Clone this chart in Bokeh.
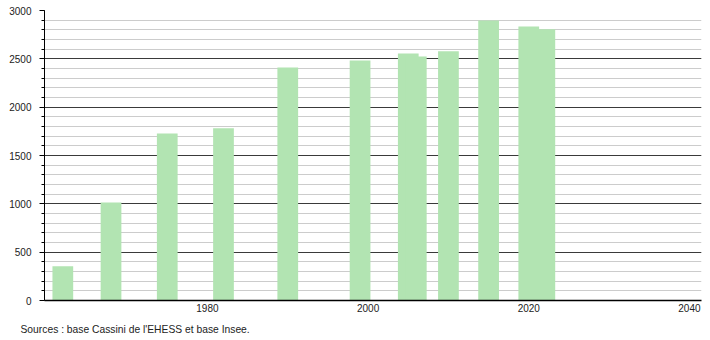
from bokeh.plotting import figure
from bokeh.models import FixedTicker, Range1d, Title
from bokeh.embed import file_html
from bokeh.resources import INLINE

# Data
years = [1962, 1968, 1975, 1982, 1990, 1999, 2005, 2006, 2010, 2015, 2020, 2022]
population = [355, 1014, 1728, 1783, 2410, 2483, 2555, 2524, 2579, 2897, 2834, 2807]
x_tick_labels = [1980, 2000, 2020, 2040]
source_text = "Sources : base Cassini de l'EHESS et base Insee."

FONT = "Liberation Sans"

p = figure(width=710, height=340, output_backend="svg", toolbar_location=None,
           x_range=Range1d(1959.72, 2041.5), y_range=Range1d(0, 3000),
           min_border_left=44, min_border_right=9, min_border_top=10,
           min_border_bottom=4)
p.frame_width = 657
p.frame_height = 290
p.outline_line_color = None
p.background_fill_color = "white"
p.border_fill_color = "white"

p.vbar(x=years, top=population, width=2.58, bottom=0,
       fill_color="#b2e4b2", line_color=None)

# y axis
ya = p.yaxis[0]
ya.ticker = FixedTicker(ticks=list(range(0, 3001, 500)),
                        minor_ticks=list(range(0, 3001, 100)))
ya.axis_line_color = "black"
ya.major_tick_line_color = "black"
ya.minor_tick_line_color = "black"
ya.major_tick_out = 5
ya.major_tick_in = 0
ya.minor_tick_out = 3
ya.minor_tick_in = 0
ya.major_label_standoff = 8
ya.major_label_text_font = FONT
ya.major_label_text_font_size = "10px"
ya.major_label_text_color = "#222222"

# x axis
xa = p.xaxis[0]
xa.ticker = FixedTicker(ticks=x_tick_labels)
xa.axis_line_color = "black"
xa.axis_line_width = 1.5
xa.major_tick_line_color = None
xa.minor_tick_line_color = None
xa.major_tick_out = 0
xa.major_tick_in = 0
xa.major_label_standoff = 3
xa.major_label_text_font = FONT
xa.major_label_text_font_size = "10px"
xa.major_label_text_color = "#222222"

# grids
p.xgrid.grid_line_color = None
p.ygrid.grid_line_color = "#3a3a3a"
p.ygrid.grid_line_width = 1
p.ygrid.minor_grid_line_color = "#cccccc"
p.ygrid.minor_grid_line_width = 1
p.ygrid.level = "underlay"

# source note
src = Title(text=source_text, align="left", text_font=FONT,
            text_font_size="10.3px", text_font_style="normal",
            text_color="#222222", offset=-24, standoff=14)
p.add_layout(src, "below")

open("out.html", "w").write(file_html(p, INLINE))
